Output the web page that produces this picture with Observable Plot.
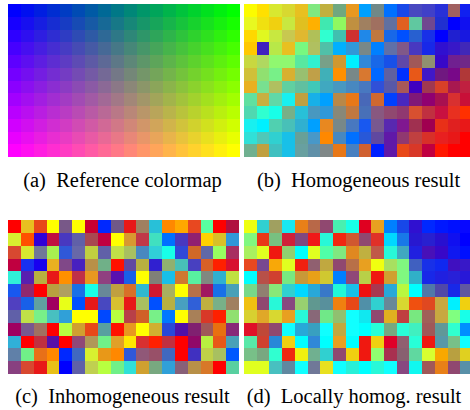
<!DOCTYPE html>
<html>
<head>
<meta charset="utf-8">
<script src="https://cdn.jsdelivr.net/npm/d3@7"></script>
<script src="https://cdn.jsdelivr.net/npm/@observablehq/plot@0.6"></script>
<style>
html, body { margin: 0; padding: 0; background: #fff; }
#wrap { position: relative; width: 470px; height: 410px; overflow: hidden; }
.panel { position: absolute; overflow: hidden; }
.panel svg { display: block; max-width: none !important; }
.cap { position: absolute; text-align: center; white-space: nowrap;
  font-family: "Liberation Serif", "Times New Roman", Times, serif; font-size: 20.5px; line-height: 20.5px; color: #000; }
</style>
</head>
<body>
<div id="wrap">
  <div class="panel" id="pa" style="left:8px;top:4px;width:232px;height:153px"></div>
  <div class="panel" id="pb" style="left:244px;top:4px;width:229px;height:153px"></div>
  <div class="panel" id="pc" style="left:8px;top:220px;width:231px;height:154px"></div>
  <div class="panel" id="pd" style="left:244px;top:220px;width:229px;height:154px"></div>
  <div class="cap" style="left:0px;width:245px;top:170px">(a)&ensp;Reference colormap</div>
  <div class="cap" style="left:240px;width:237px;top:170px">(b)&ensp;Homogeneous result</div>
  <div class="cap" style="left:0px;width:245px;top:386px">(c)&ensp;Inhomogeneous result</div>
  <div class="cap" style="left:240px;width:228px;top:386px">(d)&ensp;Locally homog. result</div>
</div>
<script>
// Reference colormap: red level per row, green/blue level per column
const refRowRed = [0, 23, 46, 70, 93, 116, 139, 162, 185, 209, 232, 255];
const refColGreen = [0, 15, 30, 45, 60, 75, 90, 105, 120, 135, 150, 165, 180, 195, 210, 225, 240, 255];
const refColBlue = [255, 240, 225, 210, 195, 180, 165, 150, 135, 120, 105, 90, 75, 60, 45, 30, 15, 0];

const homogeneous = [
  ["#fcfc00","#ffe000","#d8e830","#d8d830","#e8c020","#80e880","#c0b040","#70a880","#e89820","#00a0ff","#708888","#0070ff","#1848e8","#4848c0","#4040c8","#2830d8","#a06060","#1020f0"],
  ["#e8f820","#f0e010","#f0d010","#c8e840","#e0c020","#ffb000","#40e8b0","#90f860","#c09040","#a08060","#a07060","#6070a0","#e06020","#60c8a0","#704890","#2030d0","#0000ff","#1010f0"],
  ["#ffd800","#e0f820","#c8e840","#c8c850","#e0b830","#b0c058","#30ffd0","#40c0b0","#d03030","#2088e8","#c07840","#1868e8","#0050ff","#2860d0","#1830e8","#0000ff","#2020d0","#1818e0"],
  ["#ffc800","#4020c0","#b8e848","#e8c020","#78f880","#b0c060","#50c0a8","#00b0ff","#3098d8","#788888","#0080ff","#6070a8","#805888","#4838c0","#1828e8","#3010d0","#3818c8","#4028b8"],
  ["#c8d840","#b0d860","#90f870","#90f870","#58e8a0","#30f0d0","#78a088","#d09830","#00f0ff","#3088d8","#1868e8","#1850e8","#6048a8","#a05858","#909070","#3808c8","#702090","#702888"],
  ["#d0c038","#90e070","#78f088","#d8b030","#98c070","#c0a048","#40b0b8","#ff9000","#788888","#d87830","#0068ff","#6060a0","#0030ff","#e85818","#4018c8","#701880","#780888","#b03838"],
  ["#e8b020","#78e090","#b0c060","#60d0a0","#60c0a0","#40c8b8","#40a8c0","#4898c0","#4888c0","#4878c0","#3050d8","#5858a8","#a85858","#4000c0","#a03850","#d84028","#a81850","#c02040"],
  ["#60e0a0","#c8b040","#60d8a8","#18f0f0","#c0a040","#18b0e8","#00a0ff","#b88848","#e87818","#4868b8","#d06830","#0040ff","#4828c0","#801878","#900070","#a81050","#d83030","#c81038"],
  ["#50d8b0","#30ffd0","#18ffe8","#78b088","#28c0d8","#4898c0","#3098d8","#888878","#c07840","#4870b8","#885880","#904870","#903870","#d85030","#c03040","#c81040","#e83020","#ff3000"],
  ["#18f0f0","#00f0ff","#50d0b0","#48c0b8","#30b0d0","#00a0ff","#e88820","#788888","#4878c0","#1858f0","#785890","#5828b0","#801890","#a03050","#a00050","#e83018","#e02020","#e81818"],
  ["#30e0d8","#50c8b8","#30d0d0","#18c0e8","#68a098","#4898c8","#ff8800","#4888c0","#0070ff","#2858d8","#6048a0","#6018a8","#903870","#c04040","#d83028","#e82020","#e81818","#ff0000"],
  ["#70b090","#c0a040","#40c0c0","#18c0e8","#68a0a0","#6090a8","#808888","#e87818","#4880c0","#d06030","#0020ff","#6018a8","#e84818","#d83828","#c00040","#ff1800","#ff0000","#ff0000"]
];

const inhomogeneous = [
  ["#ff0000","#e8c020","#e84818","#ffff00","#785888","#ffff00","#c80030","#0028ff","#705888","#e81818","#a08060","#28c0d8","#ff8800","#ffa800","#e84820","#58ffa0","#ff0000","#b01040"],
  ["#d8f030","#ff5000","#3000d8","#c01040","#4838c0","#6060a8","#a84850","#c00040","#ffff00","#d89830","#c03848","#40e0c0","#0070ff","#4838c0","#902070","#ffd000","#d8c028","#3098d8"],
  ["#d84830","#d8e830","#707898","#a8f050","#3058d8","#6868a8","#c0d040","#6060a8","#c0e048","#a8c060","#4888c0","#30d0d8","#18ffe8","#3048d8","#d06828","#6068a8","#98ff60","#a83060"],
  ["#c00040","#1830f0","#1800f0","#e8b020","#804888","#4820c0","#b89048","#70b088","#ff1000","#6048a0","#b8b040","#3020d0","#90b070","#48c0b8","#4840c0","#d86028","#ff2000","#d81030"],
  ["#30f0d8","#5820b0","#b8b040","#e81818","#ff9000","#c03048","#e89820","#904080","#5810b0","#1860e8","#ffff00","#808078","#18c0e8","#d07830","#58f0a0","#808880","#30b0d0","#c0e040"],
  ["#1858f0","#902870","#ff0000","#b8a040","#b0a060","#1870e8","#18ffe8","#688898","#c0a040","#d87028","#30b8d0","#d01830","#a8b060","#ffff00","#b87048","#a01860","#1870e8","#48a0b8"],
  ["#5040c0","#1860e8","#60a0a0","#a00060","#e8ff18","#0050ff","#e81818","#4848c0","#d8c030","#e81818","#a8c060","#0050ff","#b8b040","#48a0c0","#3060d8","#c0b040","#78b088","#a08060"],
  ["#6060a8","#c0e048","#78f088","#48c0c0","#30a0d8","#ffff00","#ffff00","#0048ff","#b8ff40","#b84048","#d06028","#78f088","#0078ff","#ffff00","#a88058","#d83828","#ff2000","#90e070"],
  ["#a00060","#785890","#a07060","#ff0000","#b8ff40","#d0a030","#e84818","#58a0a0","#ff1000","#e89820","#ffff00","#d0b030","#2848d8","#5010a8","#802070","#a05858","#e87010","#882878"],
  ["#30b0d8","#ff0000","#c03040","#5810a8","#ff0000","#904878","#b09858","#70f088","#e0a028","#ffe800","#d83030","#ff2000","#c03040","#ff0000","#900868","#b8f040","#e85818","#48a0b8"],
  ["#6080a8","#70f088","#e87018","#ff8800","#0028ff","#4068c0","#d8f030","#e89818","#ff8800","#3058d8","#905878","#985068","#4068c0","#ff0000","#4030c0","#c0d048","#a8c060","#0058ff"],
  ["#884080","#d84830","#e81818","#e8c018","#0000ff","#6060a8","#c0d050","#b8ff40","#70f088","#30e0d8","#d0a030","#78a880","#30a0d8","#886078","#b89048","#d87828","#ff0000","#58d0a0"]
];

const locallyHomog = [
  ["#eeff10","#30d0d0","#a0a060","#18e8f0","#e88018","#b86848","#904870","#48f0b0","#18ffe8","#e00020","#e8a020","#0080ff","#1848e8","#3010d0","#0028ff","#0018ff","#0010ff","#0808ff"],
  ["#80f880","#e83818","#78c080","#d02038","#804880","#f01818","#28f8d8","#f02810","#d05830","#904870","#e03028","#00d8ff","#1878e8","#2818d0","#2820d0","#2810d0","#1010f0","#0000ff"],
  ["#a8f060","#e0ff20","#f01810","#90d070","#00ffff","#e0ff20","#50ffa8","#80e880","#e08820","#c0b040","#c05848","#28f8d8","#40a8c0","#2020e0","#4810b8","#3808c8","#1018f0","#0010ff"],
  ["#e84820","#784890","#f8a808","#e0ff20","#f02010","#906070","#c0a840","#904870","#b87048","#e8a020","#f0ff10","#a8e060","#80f880","#4060c0","#1830e8","#1028f0","#4010c0","#3818c8"],
  ["#00ffff","#b85048","#d04030","#78e880","#c89838","#e8a018","#d0c830","#0080ff","#904878","#b8d048","#f01810","#d0a030","#80f880","#30b0c8","#1828e8","#2020e0","#2820d8","#2818d8"],
  ["#78d888","#908070","#88e878","#30d0d0","#00d8ff","#28a8d8","#3878c8","#20f8d8","#18c0e8","#f01010","#a83850","#28a8d8","#b8f840","#00ffff","#5078a8","#5048a8","#1828e8","#6058a0"],
  ["#f0c010","#904870","#28f8d8","#884880","#98d070","#609890","#58909c","#f08010","#e84818","#5090a8","#30d0d0","#688898","#d8d830","#f05010","#e04820","#c8a840","#00f0ff","#f0d010"],
  ["#d8d030","#e0a828","#d8d830","#e8a020","#28f8d8","#886878","#70e888","#90c070","#10ffff","#10e8f0","#904870","#e0b020","#c04040","#78e880","#a06058","#c8a840","#80ff80","#18ffe8"],
  ["#e01028","#c04838","#904870","#10ffff","#28a8d8","#38a0c0","#10ffff","#c0a840","#10ffff","#00ffff","#28ffd8","#78a880","#28ffd8","#40f0c0","#a05858","#609898","#30ffd0","#0090ff"],
  ["#58e8a8","#d04030","#2888d8","#f0d010","#00ffff","#3088d8","#00ffff","#e8a020","#00ffff","#f01810","#f0d010","#e00028","#906070","#28ffd8","#f01810","#5898a8","#78c088","#10ffff"],
  ["#78c088","#78a880","#30ffd0","#f02810","#f0f010","#70b090","#30d0d0","#904870","#f0d010","#f01810","#90ff70","#a83050","#886070","#60d8a0","#d8ff30","#f8a800","#b8a040","#e0d020"],
  ["#e0ff20","#e0ff20","#48c0c0","#6088a0","#10ffff","#707898","#e8e020","#10ffff","#28f0d8","#00ffff","#28f8d8","#10ffff","#884880","#10f8f0","#a05858","#e88018","#904870","#5890a8"]
];

const refRows = refRowRed.map((r) => refColGreen.map((g, j) => d3.rgb(r, g, refColBlue[j]).formatHex()));

function toCells(rows) {
  return rows.flatMap((row, i) => row.map((c, j) => ({row: i, col: j, c})));
}

function panel(rows, width, height) {
  return Plot.plot({
    width, height,
    margin: 0,
    style: {maxWidth: "none"},
    x: {axis: null, padding: 0, round: false},
    y: {axis: null, padding: 0, round: false},
    color: {type: "identity"},
    marks: [
      Plot.cell(toCells(rows), {x: "col", y: "row", fill: "c", shapeRendering: "crispEdges"})
    ]
  });
}

document.getElementById("pa").appendChild(panel(refRows, 232, 153));
document.getElementById("pb").appendChild(panel(homogeneous, 229, 153));
document.getElementById("pc").appendChild(panel(inhomogeneous, 231, 154));
document.getElementById("pd").appendChild(panel(locallyHomog, 229, 154));
</script>
</body>
</html>
